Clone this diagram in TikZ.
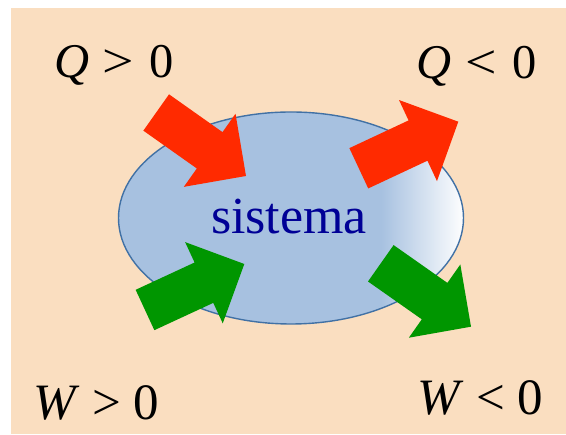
\documentclass[tikz,border=0pt]{standalone}
\usepackage{fontspec}
\usepackage{graphicx}
\setmainfont{Liberation Serif}
\newfontfamily\timesx{Liberation Serif}
\usetikzlibrary{calc,shapes.geometric}
\definecolor{bgpeach}{RGB}{250,222,192}
\definecolor{sysblue}{RGB}{167,193,224}
\definecolor{sysline}{RGB}{65,113,165}
\definecolor{systext}{RGB}{0,0,150}
\definecolor{heatred}{RGB}{255,42,0}
\definecolor{workgreen}{RGB}{0,150,0}
\newcommand\blockarrow[3]{%
  \coordinate (h#2) at ($(#3)!44.5pt!(#2)$);
  \fill[#1] ($(#2)!22.25pt!90:(#3)$) -- ($(h#2)!22.25pt!-90:(#2)$) --
    ($(h#2)!44.75pt!-90:(#2)$) -- (#3) -- ($(h#2)!44.75pt!90:(#2)$) --
    ($(h#2)!22.25pt!90:(#2)$) -- ($(#2)!22.25pt!-90:(#3)$) -- cycle;}
\tikzset{
  qlabel/.style={anchor=base west, inner sep=0pt, font=\timesx\fontsize{48.5}{56}\selectfont},
  wlabel/.style={anchor=base west, inner sep=0pt, font=\timesx\fontsize{51}{58}\selectfont},
  sysbox/.style={ellipse, fill=sysblue,
    minimum width=345pt, minimum height=212pt, inner sep=0pt},
}
\begin{document}
\begin{tikzpicture}[x=1pt,y=1pt]
\useasboundingbox (0,0) rectangle (566,435);
\fill[white] (0,0) rectangle (566,435);
\fill[bgpeach] (11,1) rectangle (566,427);
\node[sysbox] (sys) at (291,217) {};
\begin{scope}
  \clip (sys.center) ellipse [x radius=172.5, y radius=106];
  \shade[left color=sysblue, right color=white] (381,100) rectangle (465,335);
\end{scope}
\draw[sysline, line width=1.4pt] (sys.center) ellipse [x radius=172.5, y radius=106];
\node[text=systext, font=\timesx\fontsize{52}{60}\selectfont, anchor=base, inner sep=0pt] (systxt) at (289,201.5) {sistema};
% arrows
\coordinate (a1) at (156.2,322.5); \coordinate (b1) at (246,259);
\coordinate (a2) at (358.8,266.7); \coordinate (b2) at (458.3,313.3);
\coordinate (a3) at (145,125);     \coordinate (b3) at (244.3,171);
\coordinate (a4) at (380.8,171.7); \coordinate (b4) at (471,108.3);
\blockarrow{heatred}{a1}{b1}
\blockarrow{heatred}{a2}{b2}
\blockarrow{workgreen}{a3}{b3}
\blockarrow{workgreen}{a4}{b4}
% labels
\node[qlabel] (q1) at (54,357.3) {\textit{Q}\hspace{0.28em}\scalebox{1.15}[1]{>}\hspace{0.32em}0};
\node[qlabel] (q2) at (416.5,356.7) {\textit{Q}\hspace{0.28em}\scalebox{1.15}[1]{<}\hspace{0.32em}0};
\node[wlabel] (w1) at (33,15) {\textit{W} > 0};
\node[wlabel] (w2) at (417,20) {\textit{W} < 0};
\end{tikzpicture}
\end{document}
